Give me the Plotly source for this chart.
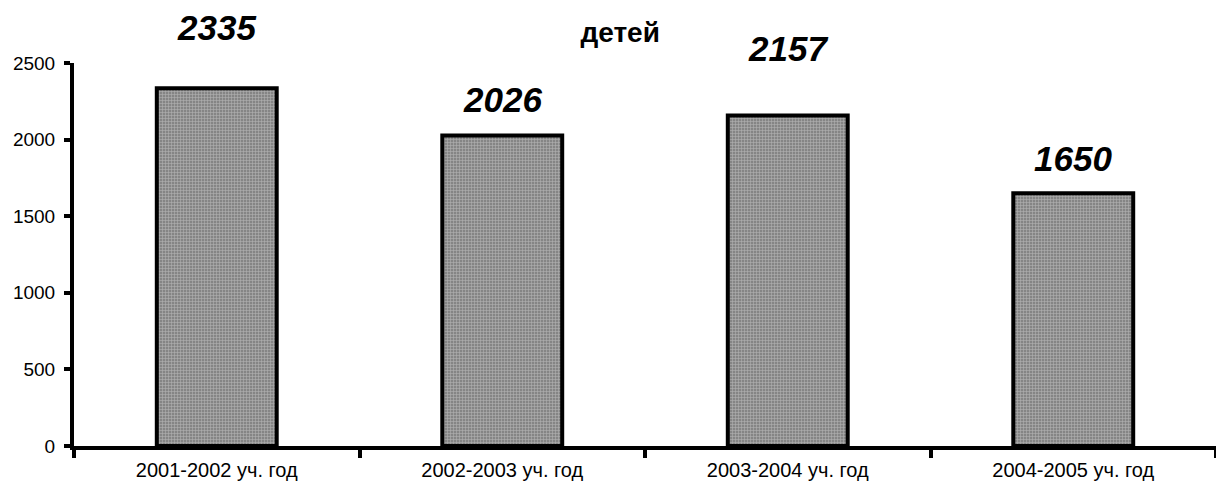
import plotly.graph_objects as go

years = ["2001-2002 уч. год", "2002-2003 уч. год", "2003-2004 уч. год", "2004-2005 уч. год"]
children = [2335, 2026, 2157, 1650]
title = "детей"

# pixel offsets of the value labels above each bar (as placed in the original)
label_shift = [61, 36, 67, 35]

fig = go.Figure()
fig.add_trace(go.Bar(
    x=years, y=children, width=0.42,
    marker=dict(
        color="#969696",
        line=dict(color="black", width=4),
        pattern=dict(shape="+", fgcolor="#e0e0e0", bgcolor="#858585", size=3, solidity=0.35),
    ),
    showlegend=False,
))

for x, v, s in zip(years, children, label_shift):
    fig.add_annotation(x=x, y=v, yshift=s, yanchor="middle", showarrow=False,
                       text=f"<b><i>{v}</i></b>",
                       font=dict(size=35, color="black", family="Liberation Sans, Arial"))

fig.update_layout(
    width=1216, height=485,
    margin=dict(l=74, r=0, t=63, b=39),
    paper_bgcolor="white", plot_bgcolor="white",
    font=dict(family="Liberation Sans, Arial", color="black", size=20),
    title=dict(text=f"<b>{title}</b>", x=0.51, xanchor="center", y=0.934, yanchor="middle",
               font=dict(size=28)),
    bargap=0.58,
)
fig.update_xaxes(showline=True, linecolor="black", linewidth=4, ticks="outside", tickson="boundaries",
                 ticklen=8, tickwidth=4, tickcolor="black", showgrid=False, tickfont=dict(size=20),
                 ticklabelstandoff=3)
fig.update_yaxes(range=[0, 2500], dtick=500, showline=True, linecolor="black", linewidth=4,
                 ticks="outside", ticklen=6, tickwidth=4, tickcolor="black", showgrid=False,
                 zeroline=False, tickfont=dict(size=19), ticklabelstandoff=5)

fig.write_html("out.html", config={"displayModeBar": False},
               post_script="document.body.style.margin='0';")
